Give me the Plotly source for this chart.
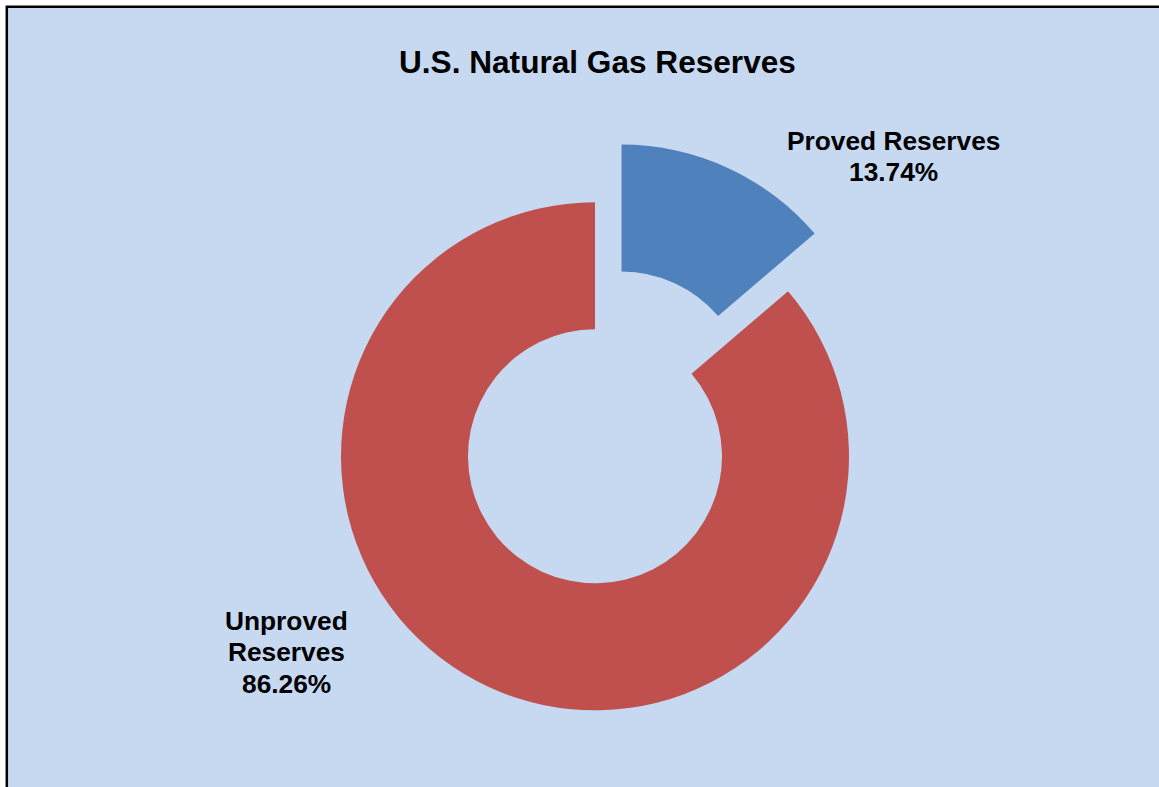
import plotly.graph_objects as go

# Data
categories = ["Proved Reserves", "Unproved Reserves"]
shares = [13.74, 86.26]
label_lines = [["Proved Reserves"], ["Unproved", "Reserves"]]
title_text = "U.S. Natural Gas Reserves"

W, H = 1159, 787
BG = "#C6D9F0"
colors = ["#4F81BD", "#C0504D"]
FONT = "Liberation Sans, Arial, sans-serif"

# Geometry (pixels)
cx, cy, r, pull = 595.0, 456.3, 254.0, 0.25
half = r * (1 + pull)
dom_x = [(cx - half) / W, (cx + half) / W]
dom_y = [1 - (cy + half) / H, 1 - (cy - half) / H]

fig = go.Figure(go.Pie(
    labels=categories,
    values=shares,
    hole=0.5,
    sort=False,
    direction="clockwise",
    rotation=0,
    pull=[pull, 0],
    marker=dict(colors=colors, line=dict(width=0)),
    textinfo="none",
    hoverinfo="label+percent",
    showlegend=False,
    domain=dict(x=dom_x, y=dom_y),
))

def px_x(x):
    return x / W

def px_y(y):
    return 1 - y / H

annotations = [dict(
    text=f"<b>{title_text}</b>", x=px_x(597), y=px_y(62), xref="paper", yref="paper",
    showarrow=False, xanchor="center", yanchor="middle",
    font=dict(family=FONT, size=31.6, color="black"),
)]

# label placements (centre x, first line centre y)
label_pos = [(893, 141), (286, 621)]
line_gap = 31.3
for i, cat in enumerate(categories):
    lines = label_lines[i] + [f"{shares[i]:.2f}%"]
    lx, ly = label_pos[i]
    for j, ln in enumerate(lines):
        annotations.append(dict(
            text=f"<b>{ln}</b>", x=px_x(lx), y=px_y(ly + j * line_gap),
            xref="paper", yref="paper", showarrow=False,
            xanchor="center", yanchor="middle",
            font=dict(family=FONT, size=26.3, color="black"),
        ))

fig.update_layout(
    width=W, height=H,
    margin=dict(l=0, r=0, t=0, b=0),
    paper_bgcolor="white",
    plot_bgcolor="white",
    annotations=annotations,
    shapes=[dict(
        type="rect", xref="paper", yref="paper",
        x0=6.8 / W, x1=1.05, y0=-0.05, y1=1 - 6.8 / H,
        line=dict(color="black", width=2.5), fillcolor=BG, layer="below",
    )],
)

fig.write_html(
    "out.html",
    config={"displayModeBar": False},
    post_script="document.body.style.margin='0';document.body.style.overflow='hidden';",
)
